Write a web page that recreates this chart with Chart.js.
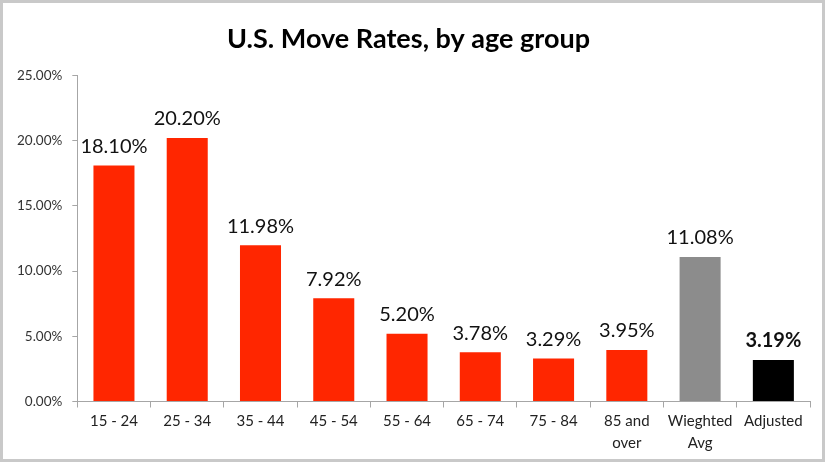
<!DOCTYPE html>
<html>
<head>
<meta charset="utf-8">
<script src="https://cdn.jsdelivr.net/npm/chart.js@4/dist/chart.umd.min.js"></script>
<style>
  html, body { margin: 0; padding: 0; background: #fff; }
  #wrap {
    width: 825px; height: 462px; box-sizing: border-box;
    border: 3px solid #c9c9c9; position: relative;
  }
</style>
</head>
<body>
<div id="wrap"><canvas id="myChart"></canvas></div>
<script>
const ctx = document.querySelector("#myChart").getContext("2d");

const labels = [
  "15 - 24",
  "25 - 34",
  "35 - 44",
  "45 - 54",
  "55 - 64",
  "65 - 74",
  "75 - 84",
  ["85 and", "over"],
  ["Wieghted", "Avg"],
  "Adjusted",
];
const rates = [18.1, 20.2, 11.98, 7.92, 5.2, 3.78, 3.29, 3.95, 11.08, 3.19];
const barColors = [
  "#ff2600", "#ff2600", "#ff2600", "#ff2600", "#ff2600",
  "#ff2600", "#ff2600", "#ff2600", "#8c8c8c", "#000000",
];
const yTicks = [0, 5, 10, 15, 20, 25];

// value labels above the bars (no datalabels plugin offline)
const barLabels = {
  id: "barLabels",
  afterDatasetsDraw(chart) {
    const c = chart.ctx;
    const meta = chart.getDatasetMeta(0);
    c.save();
    c.textAlign = "center";
    c.textBaseline = "bottom";
    c.fillStyle = "#111";
    meta.data.forEach((bar, i) => {
      const last = i === rates.length - 1;
      c.font = (last ? "bold " : "") + "20px Lato";
      c.fillText(rates[i].toFixed(2) + "%", bar.x, bar.y - 9);
    });
    c.restore();
  },
};

const data = {
  labels,
  datasets: [
    {
      data: rates,
      backgroundColor: barColors,
      categoryPercentage: 1,
      barPercentage: 0.56,
    },
  ],
};

const config = {
  type: "bar",
  data: data,
  plugins: [barLabels],
  options: {
    responsive: true,
    maintainAspectRatio: false,
    animation: false,
    layout: { padding: { left: 4, right: 12, top: 0, bottom: 2 } },
    plugins: {
      legend: { display: false },
      tooltip: { enabled: false },
      title: {
        display: true,
        text: "U.S. Move Rates, by age group",
        color: "#000",
        font: { family: "Lato", size: 27, weight: "bold" },
        padding: { top: 20, bottom: 20 },
      },
    },
    scales: {
      x: {
        border: { color: "#a6a6a6", width: 1 },
        grid: {
          offset: true,
          drawOnChartArea: false,
          drawTicks: true,
          tickLength: 6,
          color: "#a6a6a6",
        },
        ticks: {
          color: "#222",
          font: { family: "Lato", size: 15, lineHeight: 1.45 },
          maxRotation: 0,
          autoSkip: false,
          padding: 3,
        },
      },
      y: {
        min: 0,
        max: 25,
        afterBuildTicks: (axis) => {
          axis.ticks = yTicks.map((v) => ({ value: v }));
        },
        border: { color: "#a6a6a6", width: 1 },
        grid: {
          drawOnChartArea: false,
          drawTicks: true,
          tickLength: 5,
          color: "#a6a6a6",
        },
        ticks: {
          color: "#333",
          font: { family: "Lato", size: 13.5 },
          padding: 10,
          callback: function (value) {
            return value.toFixed(2) + "%";
          },
        },
      },
    },
  },
};

const myChart = new Chart(ctx, config);
</script>
</body>
</html>
